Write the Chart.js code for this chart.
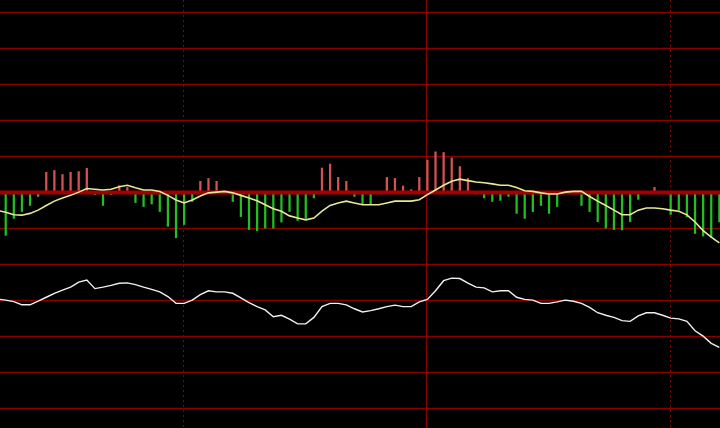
<!DOCTYPE html>
<html>
<head>
<meta charset="utf-8">
<script src="https://cdn.jsdelivr.net/npm/chart.js@4/dist/chart.umd.min.js"></script>
<style>
  html, body { margin: 0; padding: 0; background: #000; }
  canvas { display: block; }
</style>
</head>
<body>
<canvas id="chart" width="720" height="428"></canvas>
<script>
/* ── Data (one entry per bar, index 0..88) ─────────────────── */
const histogram = [
  -1.19, -0.72, -0.53, -0.36, -0.11, 0.56, 0.61, 0.50, 0.56, 0.58,
   0.67, -0.06, -0.36, -0.06, 0.19, 0.14, -0.28, -0.39, -0.32, -0.53,
  -0.94, -1.26, -0.89, -0.25, 0.31, 0.39, 0.31, 0.00, -0.25, -0.67,
  -1.03, -1.06, -0.99, -0.99, -0.82, -0.53, -0.78, -0.72, -0.15, 0.68,
   0.79, 0.42, 0.31, -0.11, -0.32, -0.32, -0.04, 0.42, 0.39, 0.18,
   0.08, 0.42, 0.90, 1.13, 1.11, 0.96, 0.72, 0.39, -0.04, -0.15,
  -0.25, -0.22, -0.11, -0.58, -0.72, -0.53, -0.36, -0.58, -0.39, 0.00,
   0.00, -0.36, -0.53, -0.81, -0.99, -1.03, -1.04, -0.81, -0.19, 0.03,
   0.14, -0.03, -0.61, -0.49, -0.67, -1.14, -1.21, -1.25, -0.82
];

// lines start one step earlier (index -1) so they reach the left edge
const signalLine = [
  -0.50,
  -0.55, -0.62, -0.63, -0.58, -0.49, -0.36, -0.24, -0.15, -0.08, 0.01,
   0.11, 0.09, 0.07, 0.09, 0.16, 0.20, 0.13, 0.07, 0.07, 0.03,
  -0.08, -0.21, -0.29, -0.21, -0.10, -0.01, 0.01, 0.03, -0.01, -0.08,
  -0.15, -0.23, -0.34, -0.45, -0.52, -0.65, -0.71, -0.76, -0.71, -0.52,
  -0.36, -0.29, -0.24, -0.29, -0.34, -0.34, -0.34, -0.29, -0.24, -0.24,
  -0.24, -0.20, -0.06, 0.07, 0.20, 0.31, 0.37, 0.33, 0.29, 0.27,
   0.24, 0.20, 0.20, 0.14, 0.05, 0.03, -0.01, -0.04, -0.04, 0.01,
   0.03, 0.03, -0.11, -0.24, -0.36, -0.49, -0.62, -0.62, -0.49, -0.43,
  -0.43, -0.45, -0.49, -0.52, -0.62, -0.82, -1.06, -1.24, -1.40
];

const priceLine = [
  -2.96,
  -2.99, -3.03, -3.12, -3.12, -3.02, -2.91, -2.80, -2.71, -2.63, -2.49,
  -2.43, -2.67, -2.63, -2.58, -2.52, -2.51, -2.56, -2.63, -2.69, -2.76,
  -2.89, -3.08, -3.08, -2.99, -2.84, -2.73, -2.76, -2.76, -2.80, -2.93,
  -3.06, -3.17, -3.26, -3.45, -3.41, -3.52, -3.65, -3.65, -3.47, -3.17,
  -3.08, -3.08, -3.12, -3.23, -3.32, -3.28, -3.23, -3.17, -3.13, -3.17,
  -3.17, -3.04, -2.97, -2.73, -2.45, -2.38, -2.39, -2.52, -2.63, -2.65,
  -2.76, -2.73, -2.73, -2.91, -2.97, -2.99, -3.08, -3.08, -3.04, -2.99,
  -3.02, -3.08, -3.19, -3.34, -3.41, -3.47, -3.56, -3.58, -3.43, -3.34,
  -3.34, -3.41, -3.49, -3.51, -3.58, -3.84, -3.99, -4.19, -4.30
];

const gridLevels = [-6, -5, -4, -3, -2, -1, 0, 1, 2, 3, 4, 5];
const markerIndexes = [22, 52, 82];
const markerDashed = [true, false, true];

/* ── Palette ───────────────────────────────────────────────── */
const COLORS = {
  background: '#000000',
  grid: 'rgb(136, 0, 0)',
  zero: 'rgb(165, 0, 0)',
  up: 'rgb(214, 82, 82)',
  down: 'rgb(34, 190, 34)',
  signal: 'rgb(232, 232, 150)',
  price: 'rgb(240, 240, 240)',
};

const histPoints = histogram.map((v, i) => ({ x: i, y: v }));
const signalPoints = signalLine.map((v, i) => ({ x: i - 1, y: v }));
const pricePoints = priceLine.map((v, i) => ({ x: i - 1, y: v }));

/* ── Grid, markers and zero line drawn through the scales ─── */
const gridPlugin = {
  id: 'terminalGrid',
  beforeDraw(chart) {
    const { ctx } = chart;
    ctx.save();
    ctx.fillStyle = COLORS.background;
    ctx.fillRect(0, 0, chart.width, chart.height);
    ctx.restore();
  },
  beforeDatasetsDraw(chart) {
    const { ctx, chartArea: a, scales } = chart;
    ctx.save();
    ctx.strokeStyle = COLORS.grid;
    ctx.lineWidth = 1.6;
    gridLevels.forEach(v => {
      if (v === 0) return;
      const y = Math.round(scales.y.getPixelForValue(v)) + 0.5;
      ctx.beginPath();
      ctx.moveTo(a.left, y);
      ctx.lineTo(a.right, y);
      ctx.stroke();
    });
    markerIndexes.forEach((idx, k) => {
      const x = Math.round(scales.x.getPixelForValue(idx)) - 0.5;
      ctx.setLineDash(markerDashed[k] ? [2, 3] : []);
      ctx.lineWidth = markerDashed[k] ? 1 : 1.5;
      ctx.beginPath();
      ctx.moveTo(x, a.top);
      ctx.lineTo(x, a.bottom);
      ctx.stroke();
    });
    ctx.restore();
  },
  afterDatasetDraw(chart, args) {
    if (args.meta.type !== 'bar') return;
    const { ctx, chartArea: a, scales } = chart;
    const y = scales.y.getPixelForValue(0);
    ctx.save();
    ctx.strokeStyle = COLORS.zero;
    ctx.lineWidth = 4;
    ctx.beginPath();
    ctx.moveTo(a.left, y);
    ctx.lineTo(a.right, y);
    ctx.stroke();
    ctx.restore();
  },
};

new Chart(document.getElementById('chart'), {
  type: 'bar',
  data: {
    datasets: [
      {
        type: 'line',
        data: signalPoints,
        borderColor: COLORS.signal,
        borderWidth: 1.6,
        pointRadius: 0,
        tension: 0,
        order: 1,
      },
      {
        type: 'line',
        data: pricePoints,
        borderColor: COLORS.price,
        borderWidth: 1.4,
        pointRadius: 0,
        tension: 0,
        order: 2,
      },
      {
        type: 'bar',
        data: histPoints,
        backgroundColor: ctx => (ctx.raw && ctx.raw.y >= 0 ? COLORS.up : COLORS.down),
        borderWidth: 0,
        barThickness: 1.6,
        order: 3,
      },
    ],
  },
  options: {
    responsive: false,
    animation: false,
    layout: { padding: 0 },
    plugins: {
      legend: { display: false },
      tooltip: { enabled: false },
    },
    scales: {
      x: { type: 'linear', display: false, offset: false, bounds: 'data', min: -0.704, max: 88.08 },
      y: { type: 'linear', display: false, min: -6.542, max: 5.347 },
    },
  },
  plugins: [gridPlugin],
});
</script>
</body>
</html>
